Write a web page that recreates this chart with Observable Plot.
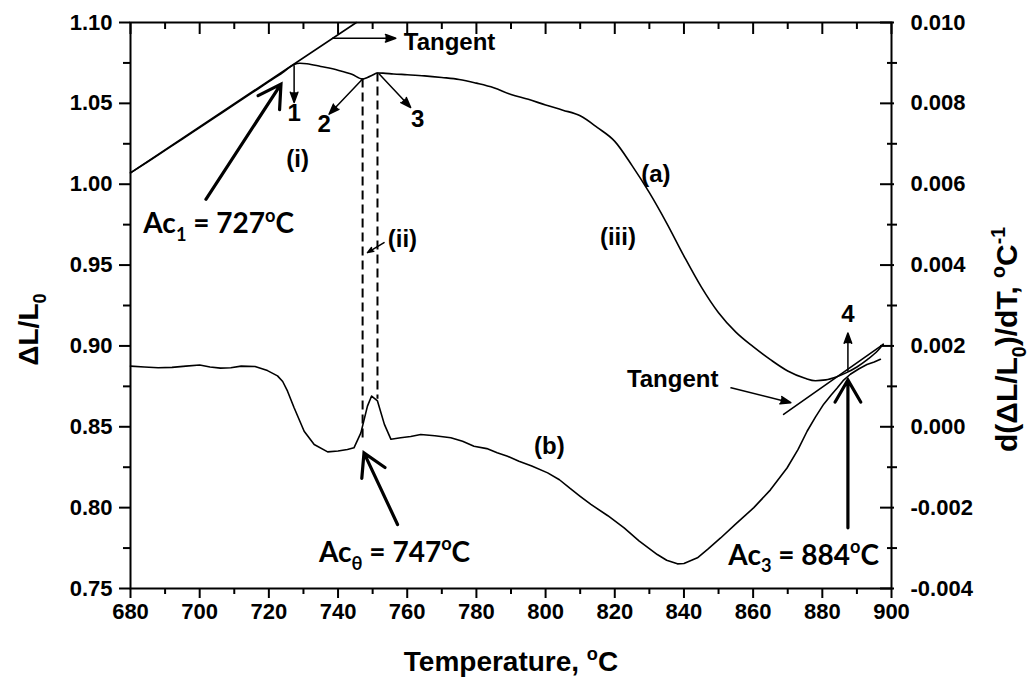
<!DOCTYPE html>
<html>
<head>
<meta charset="utf-8">
<script src="https://cdn.jsdelivr.net/npm/d3@7"></script>
<script src="https://cdn.jsdelivr.net/npm/@observablehq/plot@0.6"></script>
<style>
  html, body { margin: 0; padding: 0; background: #fff; }
</style>
</head>
<body>
<div id="chart"></div>
<script>
// ---------- Data ----------
// Curve (a): dilatation ΔL/L0 (left axis)
const tempA = [680,685,690,695,700,705,710,715,720,724,727.3,729,731,735,740,744,747.1,748.5,750,751.4,753,756,760,765,770,775,780,785,790,795,800,805,810,815,820,825,830,835,840,845,850,855,860,865,870,875,878,881,884,887,890,893,896,897.6];
const dilA  = [1.0070,1.0139,1.0209,1.0279,1.0350,1.0421,1.0492,1.0563,1.0634,1.0690,1.0741,1.0748,1.0745,1.0728,1.0705,1.0680,1.0650,1.0660,1.0675,1.0688,1.0687,1.0682,1.0677,1.0670,1.0660,1.0648,1.0625,1.0597,1.0555,1.0525,1.0490,1.0458,1.0423,1.0350,1.0265,1.0115,0.9948,0.9760,0.9556,0.9365,0.9205,0.9085,0.8995,0.8915,0.8845,0.8800,0.8785,0.8790,0.8808,0.8835,0.8870,0.8915,0.8970,0.9010];

// Curve (b): derivative d(ΔL/L0)/dT (right axis, °C^-1)
const tempB = [680,684,688,692,696,700,703,706,709,712,716,719.6,722.5,724,725.4,727.3,730.2,733.1,737,740,742.7,744.6,746.6,748.5,749.7,751.4,753.4,755.3,758.1,761,763.9,768,772.6,776,779.3,783,786,789,792.3,796,800.6,804,807,810,813.1,818,822.7,827,832.3,835,838.1,840,843.9,847,850.6,855,860.2,865,869.8,873,875.6,878,880.4,882.5,884.3,886,888.1,890.5,892.9,895,896.8];
const derivB = [0.00150,0.00148,0.00146,0.00147,0.00150,0.00153,0.00148,0.00145,0.00146,0.00150,0.00149,0.00139,0.00126,0.00112,0.00088,0.00047,-0.00011,-0.00044,-0.00062,-0.00060,-0.00056,-0.00052,-0.00015,0.00051,0.00076,0.00064,0.00006,-0.00031,-0.00027,-0.00024,-0.00019,-0.00022,-0.00027,-0.00036,-0.00048,-0.00054,-0.00064,-0.00073,-0.00085,-0.00097,-0.00114,-0.00131,-0.00152,-0.00172,-0.00192,-0.00220,-0.00250,-0.00282,-0.00316,-0.00330,-0.00339,-0.00338,-0.00324,-0.00302,-0.00275,-0.00240,-0.00200,-0.00156,-0.00102,-0.00056,-0.00011,0.00024,0.00056,0.00078,0.00096,0.00114,0.00130,0.00143,0.00154,0.00160,0.00167];

// Tangent lines
const tanUpperT = [680, 745.3];
const tanUpperV = [1.007, 1.100];
const tanLowerT = [868.8, 897.6];
const tanLowerV = [0.8577, 0.9010];

// Dashed guide lines (temperature, top on curve a, bottom on curve b)
const dashT      = [747.1, 751.4];
const dashTop    = [1.0650, 1.0688];
const dashBottom = [0.8412, 0.8671];

// Axis ticks
const xMajor = [680,700,720,740,760,780,800,820,840,860,880,900];
const xMinor = [690,710,730,750,770,790,810,830,850,870,890];
const yMajor = [0.75,0.80,0.85,0.90,0.95,1.00,1.05,1.10];
const yMinor = [0.775,0.825,0.875,0.925,0.975,1.025,1.075];
const rMajor = [-0.004,-0.002,0.000,0.002,0.004,0.006,0.008,0.010];
const rMinor = [-0.003,-0.001,0.001,0.003,0.005,0.007,0.009];

// Annotation labels (data coordinates)
const lblMidText = ["1","2","3","(i)","(ii)","(iii)","(a)","(b)","4"];
const lblMidT    = [727.3,736.0,763.0,728.3,758.6,820.9,831.9,801.1,887.4];
const lblMidV    = [1.0441,1.0371,1.0402,1.0155,0.9660,0.9670,1.0062,0.8380,0.9196];
const lblTanText = ["Tangent","Tangent"];
const lblTanT    = [759.0, 823.5];
const lblTanV    = [1.0876, 0.8795];
const acText = ["Ac_{1} = 727^{o}C", "Ac_{θ} = 747^{o}C", "Ac_{3} = 884^{o}C"];
const acT    = [683.7, 734.5, 896.4];
const acV    = [0.9752, 0.7720, 0.7703];
const acAnchor = ["start","start","end"];

// Arrows (data coordinates)
const thinX1 = [738.4, 727.3, 747.1, 751.9, 753.3, 853.6, 887.4];
const thinY1 = [1.0903,1.0732,1.0650,1.0681,0.9639,0.8741,0.8845];
const thinX2 = [756.7, 727.3, 737.4, 761.0, 748.5, 870.9, 887.4];
const thinY2 = [1.0903,1.0505,1.0433,1.0474,0.9577,0.8649,0.9080];
const thickX1 = [701.8, 757.2, 887.4];
const thickY1 = [0.9907,0.7896,0.7875];
const thickX2 = [723.5, 747.5, 887.4];
const thickY2 = [1.0619,0.8339,0.8790];

// ---------- Build tables ----------
const toLeft = r => 0.85 + 25 * r;        // right-axis value -> left-axis scale
const fmtRight = d => { const r = (d - 0.85) / 25; return Math.abs(r) < 1e-9 ? "0.000" : r.toFixed(3); };
const blank = () => "";

const curveA = tempA.map((t, i) => ({T: t, v: dilA[i]}));
const curveB = tempB.map((t, i) => ({T: t, v: toLeft(derivB[i])}));
const tanU = tanUpperT.map((t, i) => ({T: t, v: tanUpperV[i]}));
const tanL = tanLowerT.map((t, i) => ({T: t, v: tanLowerV[i]}));
const dashes = dashT.map((t, i) => ({T: t, top: dashTop[i], bottom: dashBottom[i]}));
const midLabels = lblMidText.map((s, i) => ({T: lblMidT[i], v: lblMidV[i], s}));
const tanLabels = lblTanText.map((s, i) => ({T: lblTanT[i], v: lblTanV[i], s}));
const acLabels = acText.map((s, i) => ({T: acT[i], v: acV[i], s, a: acAnchor[i]}));
const thin = thinX1.map((x, i) => ({x1: x, y1: thinY1[i], x2: thinX2[i], y2: thinY2[i]}));
const thick = thickX1.map((x, i) => ({x1: x, y1: thickY1[i], x2: thickX2[i], y2: thickY2[i]}));

const ARIAL = "Liberation Sans";
const CAL = "Lato";

const svg = Plot.plot({
  width: 1034,
  height: 679,
  marginLeft: 130,
  marginRight: 143,
  marginTop: 22,
  marginBottom: 91,
  x: {domain: [680, 900]},
  y: {domain: [0.75, 1.10]},
  style: {fontFamily: ARIAL, fontWeight: "bold", color: "black", background: "white", fontSize: "22px"},
  marks: [
    // data curves
    Plot.line(tanU, {x: "T", y: "v", stroke: "black", strokeWidth: 1.6}),
    Plot.line(tanL, {x: "T", y: "v", stroke: "black", strokeWidth: 1.6}),
    Plot.line(curveA, {x: "T", y: "v", stroke: "black", strokeWidth: 1.6, curve: "monotone-x"}),
    Plot.line(curveB, {x: "T", y: "v", stroke: "black", strokeWidth: 1.6}),
    Plot.ruleX(dashes, {x: "T", y1: "top", y2: "bottom", stroke: "black", strokeWidth: 2, strokeDasharray: "9,5"}),

    // arrows
    Plot.arrow(thin, {x1: "x1", y1: "y1", x2: "x2", y2: "y2", stroke: "black", fill: "black", strokeWidth: 1.5, headLength: 11, headAngle: 40}),
    Plot.arrow(thick, {x1: "x1", y1: "y1", x2: "x2", y2: "y2", stroke: "black", strokeWidth: 3.2, headLength: 12, headAngle: 60, strokeLinejoin: "miter", strokeMiterlimit: 4}),

    // annotation labels
    Plot.text(midLabels, {x: "T", y: "v", text: "s", fontSize: 24, fontFamily: ARIAL, fontWeight: "bold"}),
    Plot.text(tanLabels, {x: "T", y: "v", text: "s", fontSize: 24, textAnchor: "start", fontFamily: ARIAL, fontWeight: "bold"}),
    Plot.text(acLabels.filter(d => d.a === "start"), {x: "T", y: "v", text: "s", fontSize: 28, textAnchor: "start", fontFamily: CAL, fontWeight: "bold"}),
    Plot.text(acLabels.filter(d => d.a === "end"), {x: "T", y: "v", text: "s", fontSize: 28, textAnchor: "end", fontFamily: CAL, fontWeight: "bold"}),

    // axis titles
    Plot.text(["Temperature, ^{o}C"], {frameAnchor: "bottom", text: d => d, dy: 74, fontSize: 28, textAnchor: "middle", lineAnchor: "middle"}),
    Plot.text(["ΔL/L_{0}"], {frameAnchor: "left", text: d => d, rotate: -90, dx: -101, dy: 24, fontSize: 28, textAnchor: "middle", lineAnchor: "middle"}),
    Plot.text(["d(ΔL/L_{0})/dT, ^{o}C^{-1}"], {frameAnchor: "right", text: d => d, rotate: -90, dx: 116, dy: 34, fontSize: 30, textAnchor: "middle", lineAnchor: "middle"}),

    // axes: bottom
    Plot.axisX({anchor: "bottom", ticks: xMajor, tickSize: 10, tickPadding: 5, fontSize: 22, strokeWidth: 2, label: null}),
    Plot.axisX({anchor: "bottom", ticks: xMinor, tickSize: 6, strokeWidth: 2, tickFormat: blank, label: null}),
    // top (inward ticks)
    Plot.axisX({anchor: "top", ticks: xMajor, tickSize: 11, dy: 11, strokeWidth: 2, tickFormat: blank, label: null}),
    Plot.axisX({anchor: "top", ticks: xMinor, tickSize: 6, dy: 6, strokeWidth: 2, tickFormat: blank, label: null}),
    // left
    Plot.axisY({anchor: "left", ticks: yMajor, tickSize: 11, tickPadding: 7, fontSize: 22, strokeWidth: 2, tickFormat: d3.format(".2f"), label: null}),
    Plot.axisY({anchor: "left", ticks: yMinor, tickSize: 7, strokeWidth: 2, tickFormat: blank, label: null}),
    // right (secondary scale)
    Plot.axisY({anchor: "right", ticks: rMajor.map(toLeft), tickSize: 0, tickPadding: 19, fontSize: 22, tickFormat: fmtRight, label: null}),
    Plot.axisY({anchor: "right", ticks: rMajor.map(toLeft), tickSize: 14, dx: -12, strokeWidth: 2, tickFormat: blank, label: null}),
    Plot.axisY({anchor: "right", ticks: rMinor.map(toLeft), tickSize: 10, dx: -5, strokeWidth: 2, tickFormat: blank, label: null}),
    Plot.frame({strokeWidth: 2})
  ]
});

// Convert _{..} and ^{..} markup into real subscript/superscript tspans
function richify(root) {
  const NS = "http://www.w3.org/2000/svg";
  root.querySelectorAll("text").forEach(t => {
    const s = t.textContent;
    if (!/[_^]\{/.test(s)) return;
    const fs = parseFloat(t.closest("[font-size]") ? t.closest("[font-size]").getAttribute("font-size") : 22) || 22;
    while (t.firstChild) t.removeChild(t.firstChild);
    const re = /([_^])\{([^}]*)\}|([^_^]+)/g;
    let m, shift = 0;
    while ((m = re.exec(s))) {
      const ts = document.createElementNS(NS, "tspan");
      let target = 0;
      if (m[1]) {
        target = m[1] === "_" ? 0.28 * fs : -0.42 * fs;
        ts.textContent = m[2];
        ts.setAttribute("font-size", (0.65 * fs) + "px");
      } else {
        ts.textContent = m[3];
      }
      const d = target - shift;
      if (d !== 0) ts.setAttribute("dy", d + "px");
      shift = target;
      t.appendChild(ts);
    }
  });
}
document.getElementById("chart").appendChild(svg);
richify(svg);
</script>
</body>
</html>
